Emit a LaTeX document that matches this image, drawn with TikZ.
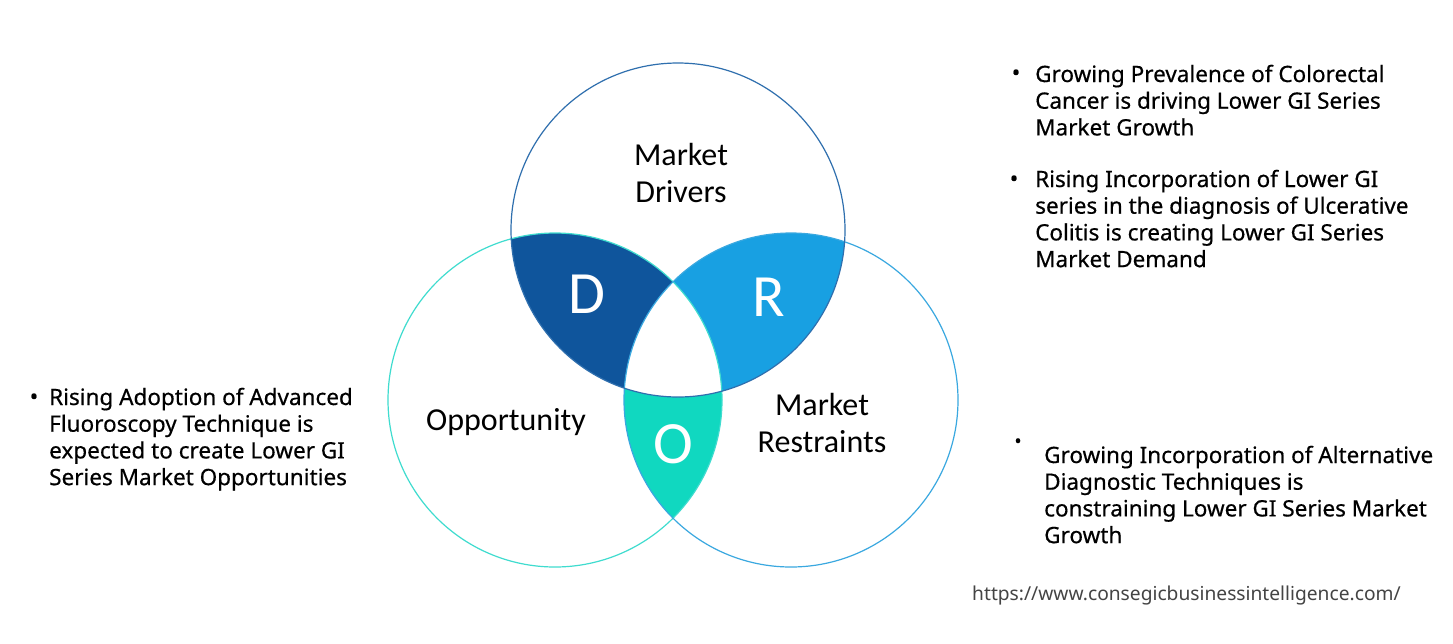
\documentclass[tikz,border=0pt]{standalone}
\usepackage{fontspec}
\setmainfont{Noto Sans}
\newfontfamily\bodyf[FakeBold=0.5]{Noto Sans}
\newfontfamily\calib{Carlito}
\definecolor{dcol}{HTML}{0F559C}
\definecolor{rcol}{HTML}{18A0E2}
\definecolor{ocol}{HTML}{10D8C0}
\definecolor{tline}{HTML}{2F6FAE}
\definecolor{lline}{HTML}{3FDCCF}
\definecolor{rline}{HTML}{3AA8E0}
\definecolor{urlcol}{HTML}{444444}
\tikzset{
  bul/.style={inner sep=0pt, font=\bodyf\fontsize{22.5}{26.7}\selectfont},
  txt/.style={inner sep=0pt, anchor=base west, font=\bodyf\fontsize{22.5}{26.7}\selectfont},
  lab/.style={inner sep=0pt, anchor=base, font=\calib\fontsize{32}{37}\selectfont},
  big/.style={inner sep=0pt, text=white, font=\calib\fontsize{60}{60}\selectfont},
  ring/.style={line width=1.2pt}
}
\begin{document}
\begin{tikzpicture}[x=1pt,y=-1pt]
\useasboundingbox (0,0) rectangle (1453,643);
\fill[white] (0,0) rectangle (1453,643);
\coordinate (ct) at (678,230);
\coordinate (cl) at (555,400);
\coordinate (cr) at (791,400);
\begin{scope}\clip (ct) circle (167pt); \fill[dcol] (cl) circle (167pt); \end{scope}
\begin{scope}\clip (ct) circle (167pt); \fill[rcol] (cr) circle (167pt); \end{scope}
\begin{scope}\clip (cl) circle (167pt); \fill[ocol] (cr) circle (167pt); \end{scope}
\begin{scope}\clip (ct) circle (167pt); \clip (cl) circle (167pt); \fill[white] (cr) circle (167pt); \end{scope}
\draw[ring, lline] (cl) circle (167pt);
\draw[ring, rline] (cr) circle (167pt);
\draw[ring, tline] (ct) circle (167pt);

\node[lab] (md) at (681,165) {\parbox[t]{250pt}{\centering\baselineskip=37pt Market\\Drivers}};
\node[lab] (mr) at (822,415) {\parbox[t]{250pt}{\centering\baselineskip=37pt Market\\Restraints}};
\node[lab] (op) at (506,430) {Opportunity};

\node[big] (dl) at (587,294) {D};
\node[big] (rl) at (769,297) {R};
\node[big] (ol) at (673,444) {O};

\node[bul] (b1) at (1016,75) {\textbullet};
\node[txt] (t1) at (1035,82) {\parbox[t]{440pt}{\baselineskip=26.7pt Growing Prevalence of Colorectal\\Cancer is driving Lower GI Series\\Market Growth}};
\node[bul] (b2) at (1014,181) {\textbullet};
\node[txt] (t2) at (1035,187) {\parbox[t]{440pt}{\baselineskip=26.7pt Rising Incorporation of Lower GI\\series in the diagnosis of Ulcerative\\Colitis is creating Lower GI Series\\Market Demand}};
\node[bul, font=\bodyf\fontsize{19}{20}\selectfont] (b3) at (1018,443) {\textbullet};
\node[txt] (t3) at (1044,463) {\parbox[t]{440pt}{\baselineskip=26.7pt Growing Incorporation of Alternative\\Diagnostic Techniques is\\constraining Lower GI Series Market\\Growth}};
\node[bul] (b4) at (34,399) {\textbullet};
\node[txt] (t4) at (49,405) {\parbox[t]{440pt}{\baselineskip=26.7pt Rising Adoption of Advanced\\Fluoroscopy Technique is\\expected to create Lower GI\\Series Market Opportunities}};
\node[txt, text=urlcol, font=\fontsize{19.2}{20}\selectfont] (url) at (972,600) {https://www.consegicbusinessintelligence.com/};
\end{tikzpicture}
\end{document}
